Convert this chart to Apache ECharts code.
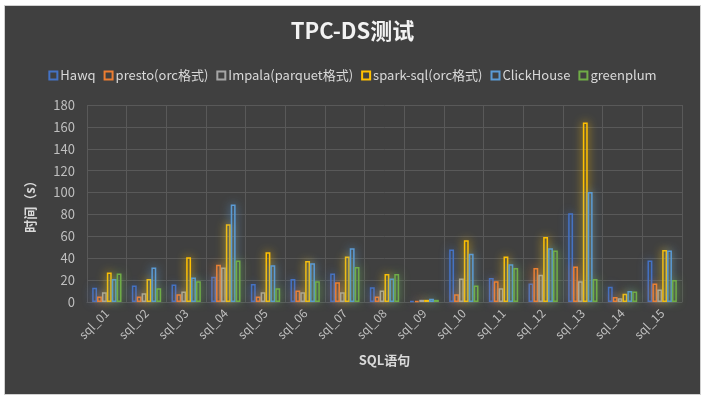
<!DOCTYPE html>
<html>
<head>
<meta charset="utf-8">
<script src="https://cdn.jsdelivr.net/npm/echarts@6/dist/echarts.min.js"></script>
<style>
html,body{margin:0;padding:0;background:#ffffff;width:705px;height:399px;overflow:hidden;}
#frame{position:absolute;left:4px;top:5px;width:695px;height:388px;border:1px solid #d0d0d0;background:#404040;}
#chart{position:absolute;left:-5px;top:-6px;width:705px;height:399px;}
</style>
</head>
<body>
<div id="frame"><div id="chart"></div></div>
<script>
const categories = ['sql_01','sql_02','sql_03','sql_04','sql_05','sql_06','sql_07','sql_08','sql_09','sql_10','sql_11','sql_12','sql_13','sql_14','sql_15'];
const seriesNames = ['Hawq','presto(orc格式)','Impala(parquet格式)','spark-sql(orc格式)','ClickHouse','greenplum'];
const hawq       = [13, 15, 16, 23, 16.5, 21, 26, 13.5, 1, 48, 22, 17, 81, 14, 38];
const presto     = [5, 5, 7, 34, 5, 10.5, 18, 5, 1, 7, 19, 31, 32.5, 4.5, 17];
const impala     = [9, 8, 9.5, 31.5, 9, 9, 9, 10.5, 2, 21.5, 12.5, 25, 19, 3.5, 11.5];
const sparkSql   = [27, 21, 41, 71, 45.5, 37.5, 41.5, 25.5, 2, 56.5, 41.5, 59.5, 164, 7.5, 47.5];
const clickHouse = [21, 31.5, 22.5, 89, 33.5, 35.5, 49, 21.5, 3, 44, 34.5, 49, 100.5, 10, 47];
const greenplum  = [26, 12.5, 19, 38, 12.5, 19, 32, 25.5, 2, 15, 31, 47, 21, 9.5, 20];
const yTicks = [0, 20, 40, 60, 80, 100, 120, 140, 160, 180];

const colors = ['#4472C4','#ED7D31','#A5A5A5','#FFC000','#5B9BD5','#70AD47'];
const dataSets = [hawq, presto, impala, sparkSql, clickHouse, greenplum];
const FONT = '"Noto Sans CJK SC", "Noto Sans", sans-serif';

const chart = echarts.init(document.getElementById('chart'), null, {renderer:'canvas'});
chart.setOption({
  backgroundColor: 'transparent',
  animation: false,
  textStyle: {fontFamily: FONT},
  title: {
    text: 'TPC-DS测试', left: 'center', top: 15,
    textStyle: {color: '#f2f2f2', fontSize: 22, fontWeight: 'bold', fontFamily: FONT}
  },
  legend: {
    top: 64, left: 'center',
    itemWidth: 8, itemHeight: 8, itemGap: 8,
    icon: 'rect',
    textStyle: {color: '#d9d9d9', fontSize: 13, fontFamily: FONT, padding: [0,0,0,-2]},
    data: seriesNames
  },
  grid: {left: 87, right: 23, top: 105, bottom: 97, containLabel: false},
  xAxis: {
    type: 'category', data: categories,
    name: 'SQL语句', nameLocation: 'middle', nameGap: 52,
    nameTextStyle: {color: '#d9d9d9', fontSize: 13, fontWeight: 'bold'},
    axisLine: {lineStyle: {color: '#595959'}},
    axisTick: {show: false},
    splitLine: {show: true, interval: 0, lineStyle: {color: '#595959', width: 1}},
    axisLabel: {color: '#bfbfbf', fontSize: 12, rotate: 45, margin: 9, interval: 0}
  },
  yAxis: {
    type: 'value', min: 0, max: 180, interval: 20,
    name: '时间（s）', nameLocation: 'middle', nameGap: 50, nameRotate: 90,
    nameTextStyle: {color: '#d9d9d9', fontSize: 13, fontWeight: 'bold'},
    axisLine: {show: false}, axisTick: {show: false},
    splitLine: {lineStyle: {color: '#595959', width: 1}},
    axisLabel: {color: '#bfbfbf', fontSize: 13, margin: 12,
      formatter: v => yTicks.includes(v) ? String(v) : ''}
  },
  series: seriesNames.map((n, i) => ({
    name: n, type: 'bar', data: dataSets[i],
    barGap: '0%', barCategoryGap: '26%',
    itemStyle: {
      color: 'rgba(64,64,64,0)', borderColor: colors[i], borderWidth: 1.5,
      shadowBlur: 10, shadowColor: colors[i]
    },
    emphasis: {disabled: true}
  }))
});
</script>
</body>
</html>
